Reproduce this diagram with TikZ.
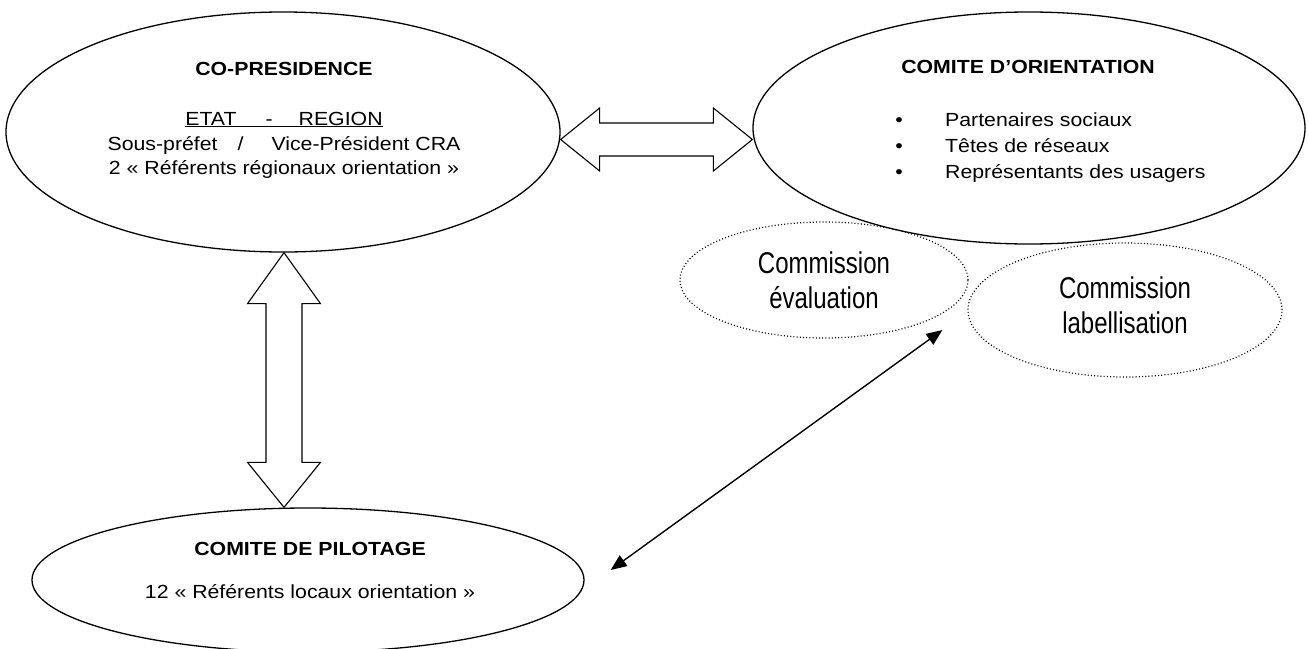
\documentclass[tikz,border=0pt]{standalone}
\usepackage{fontspec}
\setmainfont{Liberation Sans}[FakeStretch=1.12]
\newfontfamily\narrowf{Liberation Sans}[FakeStretch=0.8]
\usetikzlibrary{shapes.geometric,arrows.meta,calc}
\begin{document}
\begin{tikzpicture}[x=1pt,y=-1pt,
  bigell/.style={ellipse, draw, line width=1.3pt, fill=white, inner sep=0pt},
  comell/.style={ellipse, draw, line width=1.2pt, dash pattern=on 1pt off 2.2pt, inner sep=0pt},
  txt/.style={font=\fontsize{19}{23}\selectfont, inner sep=0pt},
  hd/.style={font=\fontsize{19}{23}\selectfont\bfseries, inner sep=0pt},
  comtxt/.style={font=\narrowf\fontsize{30}{35}\selectfont, align=center, inner sep=0pt},
  blockarrow/.style={draw, line width=1.1pt, fill=white, line join=miter},
  thinarrow/.style={{Triangle[length=16pt,width=13pt]}-{Triangle[length=16pt,width=13pt]}, line width=1.4pt}]
\useasboundingbox (0,0) rectangle (1308,648);

% commissions (behind the orientation ellipse)
\node[comell, minimum width=288pt, minimum height=116pt] (eval) at (824,280) {};
\node[comell, minimum width=314pt, minimum height=134pt] (label) at (1125,310) {};

% main ellipses
\node[bigell, minimum width=554pt, minimum height=240pt] (copres) at (283,132) {};
\node[bigell, minimum width=552pt, minimum height=232pt] (orient) at (1029,128) {};
\node[bigell, minimum width=552pt, minimum height=144pt] (pilot) at (308,580) {};

% texts
\node[comtxt] (evaltxt) at (824,280) {Commission\\évaluation};
\node[comtxt] (labeltxt) at (1125,305) {Commission\\labellisation};

\node[hd, anchor=base] (cph) at (284,75) {CO-PRESIDENCE};
\node[txt, anchor=base] (etat) at (284,125) {\underline{ETAT\hspace{29pt}-\hspace{26pt}REGION}};
\node[txt, anchor=base] (sous) at (284,150) {Sous-préfet\hspace{20pt}/\hspace{28pt}Vice-Président CRA};
\node[txt, anchor=base] (refr) at (284,174) {2 « Référents régionaux orientation »};

\node[hd, anchor=base] (orh) at (1028,73) {COMITE D’ORIENTATION};
\node[txt, anchor=base] (bu1) at (899,126) {•};
\node[txt, anchor=base] (bu2) at (899,152) {•};
\node[txt, anchor=base] (bu3) at (899,178) {•};
\node[txt, anchor=base west] (it1) at (945,126) {Partenaires sociaux};
\node[txt, anchor=base west] (it2) at (945,152) {Têtes de réseaux};
\node[txt, anchor=base west] (it3) at (945,178) {Représentants des usagers};

\node[hd, anchor=base] (pih) at (310,555) {COMITE DE PILOTAGE};
\node[txt, anchor=base] (pil) at (310,598) {12 « Référents locaux orientation »};

% horizontal block arrow
\coordinate (hl) at ($(copres.east)+(0,7.5)$);
\coordinate (hr) at ($(orient.west)+(0,11.5)$);
\draw[blockarrow] (hl) -- ++(39,-31.5) -- ++(0,15) -- ($(hr)+(-39,-16.5)$) -- ++(0,-15) -- (hr)
  -- ++(-39,31.5) -- ++(0,-15) -- ($(hl)+(39,16.5)$) -- ++(0,15) -- cycle;

% vertical block arrow
\coordinate (vt) at ($(copres.south)+(1,0)$);
\coordinate (vb) at ($(pilot.north)+(-24,0)$);
\draw[blockarrow] (vt) -- ++(36.5,51) -- ++(-18.5,0) -- ($(vb)+(18,-45)$) -- ++(18.5,0) -- (vb)
  -- ++(-36.5,-45) -- ++(18.5,0) -- ($(vt)+(-18,51)$) -- ++(-18.5,0) -- cycle;

% thin double arrow
\coordinate (ta) at ($(pilot.east)+(26,-10)$);
\coordinate (tb) at ($(label.west)+(-25,20)$);
\draw[thinarrow] (ta) -- (tb);
\end{tikzpicture}
\end{document}
